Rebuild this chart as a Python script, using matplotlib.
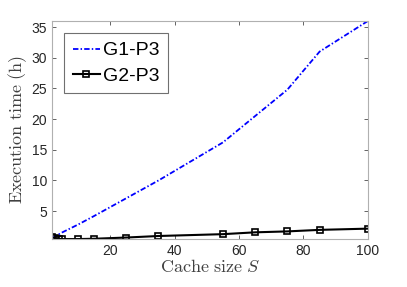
import matplotlib
matplotlib.use("Agg")
import matplotlib.pyplot as plt

plt.rcParams['font.family'] = ['Liberation Sans', 'DejaVu Sans']
plt.rcParams['mathtext.fontset'] = 'cm'

# Data
cache_size = [2, 3, 4, 5, 10, 15, 25, 35, 55, 65, 75, 85, 100]
g1_p3 = [0.6, 0.9, 1.2, 1.5, 2.8, 4.2, 7.1, 10.0, 16.2, 20.5, 24.8, 31.0, 36.0]
g2_p3 = [0.75, 0.6, 0.5, 0.45, 0.45, 0.5, 0.7, 0.95, 1.25, 1.55, 1.7, 1.95, 2.15]
xticks = [20, 40, 60, 80, 100]
yticks = [5, 10, 15, 20, 25, 30, 35]

fig = plt.figure(figsize=(4.07, 2.87), dpi=100)
ax = fig.add_axes([0.128, 0.167, 0.776, 0.76])

ax.plot(cache_size, g1_p3, color='blue', linestyle='-.', dashes=[3, 1.2, 0.8, 1.2],
        linewidth=1.3, label='G1-P3')
ax.plot(cache_size, g2_p3, color='black', linestyle='-', linewidth=1.5,
        marker='s', markersize=4, markerfacecolor='none', markeredgewidth=1.2,
        label='G2-P3')

ax.set_xlim(2, 100)
ax.set_ylim(0.45, 36)
ax.set_xticks(xticks)
ax.set_yticks(yticks)
ax.tick_params(direction='in', top=True, right=True, labelsize=10,
               colors='#262626', length=3, width=0.5)
for s in ax.spines.values():
    s.set_color('#b0b0b0')
    s.set_linewidth(0.8)

ax.set_xlabel(r'$\mathrm{Cache\ size}\ S$', fontsize=13, color='#404040', labelpad=1)
ax.set_ylabel(r'$\mathrm{Execution\ time\ (h)}$', fontsize=13, color='#404040', labelpad=2)

leg = ax.legend(loc='upper left', bbox_to_anchor=(0.038, 0.945), fontsize=14,
                fancybox=False, framealpha=1, edgecolor='#707070',
                handlelength=1.4, handletextpad=0.15, borderpad=0.45,
                labelspacing=0.4, borderaxespad=0.0)
leg.get_frame().set_linewidth(0.8)

fig.savefig('out.png', dpi=100)
